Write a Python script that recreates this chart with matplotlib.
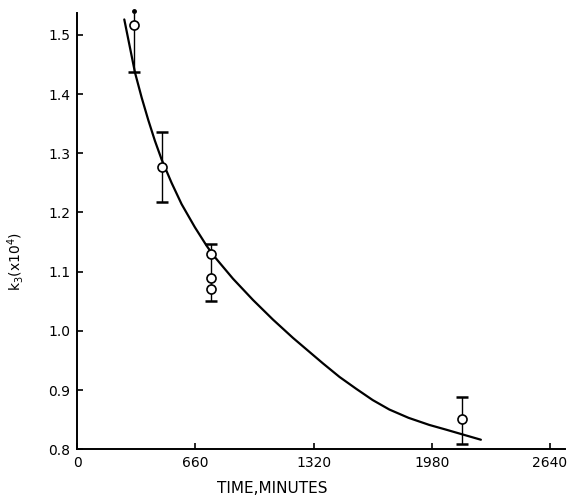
import matplotlib.pyplot as plt

# measured points (minutes, k3 x 10^4)
pt_time = [317, 475, 745, 745, 745, 2150]
pt_k = [1.517, 1.277, 1.129, 1.090, 1.070, 0.851]

# error bars
bar_time = [317, 475, 745, 2150]
bar_low = [1.437, 1.218, 1.050, 0.808]
bar_high = [1.537, 1.336, 1.147, 0.889]

# stray dot above the first point
dot_time = [317]
dot_k = [1.541]

# fitted curve
curve_time = [263, 323, 360, 397, 434, 472, 527, 583, 657, 722, 759,
              870, 982, 1093, 1205, 1372, 1465, 1558, 1650, 1743, 1850,
              1966, 2060, 2151, 2254]
curve_k = [1.526, 1.436, 1.394, 1.356, 1.321, 1.289, 1.250, 1.214, 1.175,
           1.144, 1.128, 1.088, 1.052, 1.019, 0.988, 0.945, 0.922, 0.902,
           0.883, 0.867, 0.853, 0.841, 0.833, 0.825, 0.816]

x_ticks = [0, 660, 1320, 1980, 2640]
y_ticks = [0.8, 0.9, 1.0, 1.1, 1.2, 1.3, 1.4, 1.5]

fig = plt.figure(figsize=(5.76, 4.98), dpi=100)
ax = fig.add_axes([0.134, 0.098, 0.847, 0.876])

ax.plot(curve_time, curve_k, color="black", lw=1.6, zorder=2,
        solid_joinstyle="round", solid_capstyle="round")

ax.vlines(bar_time, bar_low, bar_high, color="black", lw=1.0, zorder=1)
ax.plot(bar_time, bar_low, ls="none", marker="_", ms=8, mew=1.8, color="black")
ax.plot(bar_time[1:], bar_high[1:], ls="none", marker="_", ms=8, mew=1.8,
        color="black")
ax.plot(dot_time, dot_k, ls="none", marker="o", ms=2.5, color="black",
        clip_on=False)

ax.plot(pt_time, pt_k, ls="none", marker="o", ms=6.5, mfc="white",
        mec="black", mew=1.2, zorder=3, clip_on=False)

ax.set_xlim(0, 2724)
ax.set_ylim(0.8, 1.537)
ax.set_xticks(x_ticks)
ax.set_yticks(y_ticks)
ax.set_xticklabels([str(t) for t in x_ticks], fontsize=10)
ax.set_yticklabels(["%.1f" % t for t in y_ticks], fontsize=10)
ax.tick_params(direction="in", length=4, width=1.2, pad=5)

for side in ("top", "right"):
    ax.spines[side].set_visible(False)
for side in ("left", "bottom"):
    ax.spines[side].set_linewidth(1.4)

ax.set_xlabel("TIME,MINUTES", fontsize=11)
ax.xaxis.set_label_coords(0.40, -0.072)
ax.set_ylabel(r"k$_3$(x10$^4$)", fontsize=10)
ax.yaxis.set_label_coords(-0.105, 0.43)

fig.savefig("out.png", dpi=100)
